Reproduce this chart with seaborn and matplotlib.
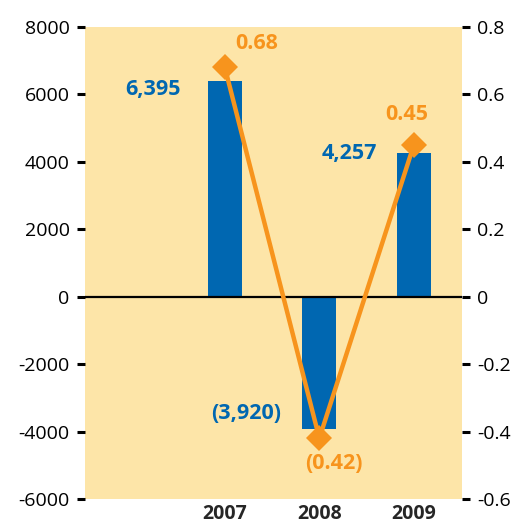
import matplotlib
matplotlib.use("Agg")
import matplotlib.pyplot as plt
import seaborn as sns
import pandas as pd

# Data
slots = ["", "2007", "2008", "2009"]
years = ["2007", "2008", "2009"]
amounts = [6395, -3920, 4257]
amount_labels = ["6,395", "(3,920)", "4,257"]
growth = [0.68, -0.42, 0.45]
growth_labels = ["0.68", "(0.42)", "0.45"]

left_ticks = [-6000, -4000, -2000, 0, 2000, 4000, 6000, 8000]
right_ticks = [-0.6, -0.4, -0.2, 0, 0.2, 0.4, 0.6, 0.8]
right_tick_labels = ["-0.6", "-0.4", "-0.2", "0", "0.2", "0.4", "0.6", "0.8"]

BLUE = "#0067B1"
ORANGE = "#F7941D"
BG = "#FDE5A8"

sns.set_theme(style="white")
plt.rcParams["font.family"] = ["Open Sans", "DejaVu Sans"]

fig = plt.figure(figsize=(5.13, 5.25), dpi=100)
ax = fig.add_axes([0.1657, 0.0495, 0.7349, 0.8991])
ax.set_facecolor(BG)

df = pd.DataFrame({"year": years, "amount": amounts})
sns.barplot(data=df, x="year", y="amount", order=slots, color=BLUE,
            saturation=1, width=0.36, linewidth=0, edgecolor="none",
            ax=ax, zorder=2)

ax.axhline(0, color="black", lw=1.6, zorder=3)
ax.set_xlim(-0.48, 3.51)
ax.set_ylim(-6000, 8000)
ax.set_yticks(left_ticks)
ax.set_yticklabels([str(t) for t in left_ticks])
ax.set_xlabel("")
ax.set_ylabel("")
ax.tick_params(axis="y", left=True, direction="out", length=6, width=2.2,
               color="black", labelsize=14, pad=5, labelcolor="black")
# year labels sit flush with the bottom edge of the figure
ax.tick_params(axis="x", bottom=False, length=0, labelsize=14, pad=18.3)
for lbl in ax.get_xticklabels():
    lbl.set_fontweight("bold")
    lbl.set_verticalalignment("bottom")
for s in ax.spines.values():
    s.set_visible(False)

# Growth line on the secondary axis
ax2 = ax.twinx()
xpos = [slots.index(y) for y in years]
sns.lineplot(x=xpos, y=growth, ax=ax2, color=ORANGE, lw=3.2, marker="D",
             markersize=13, markeredgewidth=0, zorder=4)
ax2.set_ylim(-0.6, 0.8)
ax2.set_yticks(right_ticks)
ax2.set_yticklabels(right_tick_labels)
ax2.tick_params(axis="y", right=True, direction="out", length=6, width=2.2,
                color="black", labelsize=14, pad=5, labelcolor="black")
for s in ax2.spines.values():
    s.set_visible(False)
ax2.set_xlim(-0.48, 3.51)

# Value labels
bar_offsets = [(-0.76, -250), (-0.78, 450), (-0.68, 0)]
for x, v, t, (dx, dy) in zip(xpos, amounts, amount_labels, bar_offsets):
    ax.text(x + dx, v + dy, t, color=BLUE, fontsize=15.5, fontweight="bold",
            ha="center", va="center", zorder=5)

growth_offsets = [(0.34, 0.07), (0.15, -0.075), (-0.07, 0.09)]
for x, v, t, (dx, dy) in zip(xpos, growth, growth_labels, growth_offsets):
    ax2.text(x + dx, v + dy, t, color=ORANGE, fontsize=15.5, fontweight="bold",
             ha="center", va="center", zorder=5)

fig.savefig("out.png", dpi=100)
